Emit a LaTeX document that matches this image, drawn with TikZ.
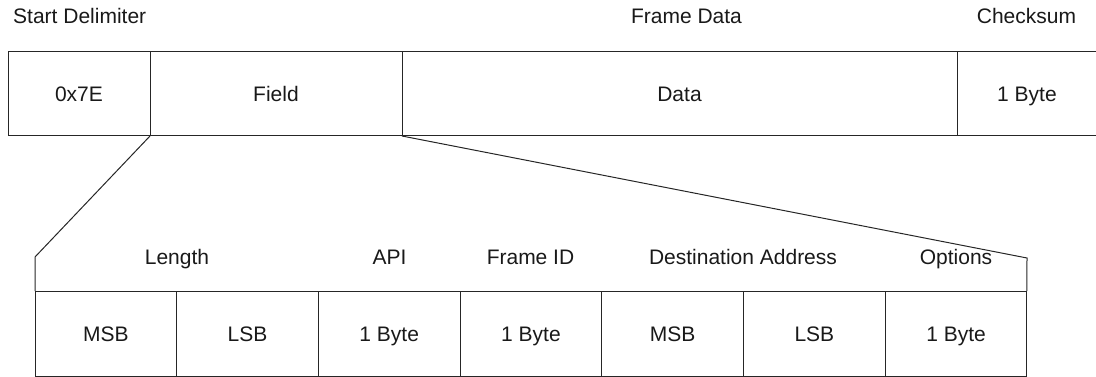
\documentclass[tikz,border=0pt]{standalone}
\usepackage{fontspec}
\setmainfont{Liberation Sans}
\usetikzlibrary{positioning}
\begin{document}
\begin{tikzpicture}[x=1pt,y=-1pt,
  every node/.style={font=\fontsize{21}{25}\selectfont, text=black!90},
  cell/.style={draw=black!85, line width=1pt, outer sep=0pt, inner sep=0pt,
    text height=15pt, text depth=0pt},
  topcell/.style={cell, minimum height=84pt},
  botcell/.style={cell, minimum height=85pt, minimum width=141.7pt},
  lbl/.style={anchor=base, inner sep=0pt},
  link/.style={draw=black!85, line width=1pt}]
\clip (0,0) rectangle (1096,377);
% top frame
\node[topcell, minimum width=142pt] (sd) at (79,94) {0x7E};
\node[topcell, minimum width=252pt, right=0pt of sd] (field) {Field};
\node[topcell, minimum width=555pt, right=0pt of field] (data) {Data};
\node[topcell, minimum width=140pt, right=0pt of data] (cs) {1 Byte};
% top labels
\node[lbl] (lsd) at (79.7,24) {Start Delimiter};
\node[lbl] (lfd) at (686.5,24) {Frame Data};
\node[lbl] (lcs) at (1026.5,24) {Checksum};
% bottom frame
\node[botcell] (b1) at (105.85,333.5) {MSB};
\node[botcell, right=0pt of b1] (b2) {LSB};
\node[botcell, right=0pt of b2] (b3) {1 Byte};
\node[botcell, right=0pt of b3] (b4) {1 Byte};
\node[botcell, right=0pt of b4] (b5) {MSB};
\node[botcell, right=0pt of b5] (b6) {LSB};
\node[botcell, right=0pt of b6] (b7) {1 Byte};
% bottom labels
\node[lbl] (llen) at (177,265) {Length};
\node[lbl] (lapi) at (389.5,265) {API};
\node[lbl] (lfid) at (530.5,265) {Frame ID};
\node[lbl] (lda) at (743,265) {Destination Address};
\node[lbl] (lopt) at (956,265) {Options};
% expansion lines
\coordinate (tl) at (35,257);
\coordinate (tr) at (1027,258);
\draw[link] (field.south west) -- (tl) -- (b1.north west);
\draw[link] (field.south east) -- (tr) -- (b7.north east);
\end{tikzpicture}
\end{document}
